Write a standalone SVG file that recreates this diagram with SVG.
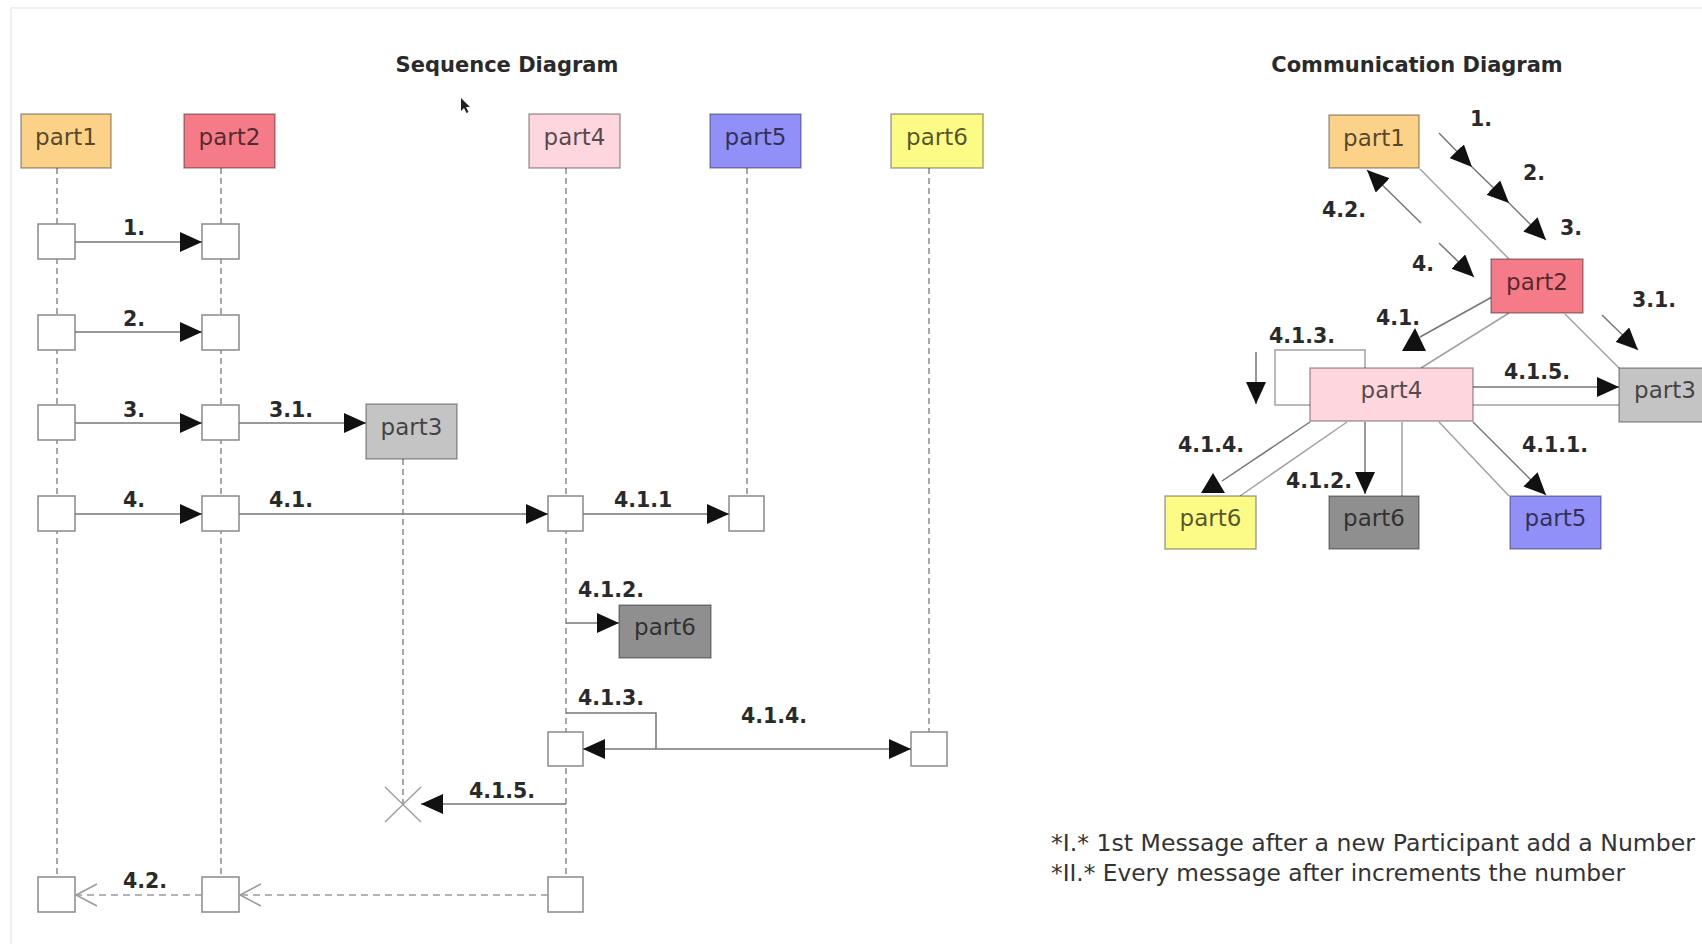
<svg xmlns="http://www.w3.org/2000/svg" width="1702" height="944" viewBox="0 0 1702 944">
  <style>
    .bg { fill: #ffffff; }
    .frame { stroke: #ececec; stroke-width: 1.5; fill: none; }
    .title { font-family: "DejaVu Sans", "Liberation Sans", sans-serif; font-weight: bold; font-size: 21px; fill: #2a2a2a; text-anchor: middle; }
    .lbl { font-family: "DejaVu Sans", "Liberation Sans", sans-serif; font-weight: bold; font-size: 20.5px; fill: #2a2a2a; }
    .name { font-family: "DejaVu Sans", "Liberation Sans", sans-serif; font-size: 23px; fill: #000; fill-opacity: 0.68; text-anchor: middle; }
    .note { font-family: "DejaVu Sans", "Liberation Sans", sans-serif; font-size: 23px; fill: #333; }
    .box { stroke: #000; stroke-opacity: 0.35; stroke-width: 1.5; }
    .life { stroke: #8a8a8a; stroke-width: 1.5; stroke-dasharray: 6 4; fill: none; }
    .act { fill: #ffffff; stroke: #8a8a8a; stroke-width: 1.5; }
    .msg { stroke: #767676; stroke-width: 1.5; fill: none; }
    .ret { stroke: #9a9a9a; stroke-width: 1.5; stroke-dasharray: 7 5; fill: none; }
    .open { stroke: #9a9a9a; stroke-width: 1.5; fill: none; }
    .conn { stroke: #a2a2a2; stroke-width: 1.5; fill: none; }
    .head { fill: #111; }
  </style>
  <defs>
    <marker id="tri" markerUnits="userSpaceOnUse" markerWidth="22" markerHeight="20" refX="22" refY="10" orient="auto">
      <path d="M0,0 L22,10 L0,20 z" fill="#111"/>
    </marker>
  </defs>

  <rect class="bg" x="0" y="0" width="1702" height="944"/>
  <path class="frame" d="M11,944 V8 H1702"/>

  <!-- ===================== Sequence diagram ===================== -->
  <text class="title" x="507" y="72">Sequence Diagram</text>
  <!-- pointer -->
  <path d="M461,98 L461,111 L464,108 L466.5,113 L468.5,112 L466,107 L470,107 Z" fill="#222"/>

  <g id="seq-lifelines">
    <line class="life" x1="57" y1="168" x2="57" y2="877"/>
    <line class="life" x1="221" y1="168" x2="221" y2="877"/>
    <line class="life" x1="566" y1="168" x2="566" y2="877"/>
    <line class="life" x1="747" y1="168" x2="747" y2="496"/>
    <line class="life" x1="929" y1="168" x2="929" y2="732"/>
    <line class="life" x1="403" y1="459" x2="403" y2="805"/>
  </g>

  <g id="seq-part1"><rect class="box" x="21" y="114" width="90" height="54" fill="#FBD287"/><text class="name" x="66" y="145">part1</text></g>
  <g id="seq-part2"><rect class="box" x="184" y="114" width="91" height="54" fill="#F47B87"/><text class="name" x="229.5" y="145">part2</text></g>
  <g id="seq-part4"><rect class="box" x="529" y="114" width="91" height="54" fill="#FDD7DD"/><text class="name" x="574.5" y="145">part4</text></g>
  <g id="seq-part5"><rect class="box" x="710" y="114" width="91" height="54" fill="#9090F8"/><text class="name" x="755.5" y="145">part5</text></g>
  <g id="seq-part6"><rect class="box" x="891" y="114" width="92" height="54" fill="#FBFB85"/><text class="name" x="937" y="145">part6</text></g>
  <g id="seq-part3"><rect class="box" x="366" y="404" width="91" height="55" fill="#C4C4C4"/><text class="name" x="411.5" y="435">part3</text></g>
  <g id="seq-part6b"><rect class="box" x="619" y="605" width="92" height="53" fill="#8F8F8F"/><text class="name" x="665" y="635">part6</text></g>

  <g id="seq-activations">
    <rect class="act" x="38" y="224" width="37" height="35"/>
    <rect class="act" x="202" y="224" width="37" height="35"/>
    <rect class="act" x="38" y="315" width="37" height="35"/>
    <rect class="act" x="202" y="315" width="37" height="35"/>
    <rect class="act" x="38" y="405" width="37" height="35"/>
    <rect class="act" x="202" y="405" width="37" height="35"/>
    <rect class="act" x="38" y="496" width="37" height="35"/>
    <rect class="act" x="202" y="496" width="37" height="35"/>
    <rect class="act" x="548" y="496" width="35" height="35"/>
    <rect class="act" x="729" y="496" width="35" height="35"/>
    <rect class="act" x="548" y="732" width="35" height="34"/>
    <rect class="act" x="911" y="732" width="36" height="34"/>
    <rect class="act" x="38" y="877" width="37" height="35"/>
    <rect class="act" x="202" y="877" width="37" height="35"/>
    <rect class="act" x="548" y="877" width="35" height="35"/>
  </g>

  <g id="seq-messages">
    <line class="msg" x1="75" y1="242" x2="202" y2="242" marker-end="url(#tri)"/>
    <line class="msg" x1="75" y1="332" x2="202" y2="332" marker-end="url(#tri)"/>
    <line class="msg" x1="75" y1="423" x2="202" y2="423" marker-end="url(#tri)"/>
    <line class="msg" x1="239" y1="423" x2="366" y2="423" marker-end="url(#tri)"/>
    <line class="msg" x1="75" y1="514" x2="202" y2="514" marker-end="url(#tri)"/>
    <line class="msg" x1="239" y1="514" x2="548" y2="514" marker-end="url(#tri)"/>
    <line class="msg" x1="583" y1="514" x2="729" y2="514" marker-end="url(#tri)"/>
    <line class="msg" x1="566" y1="623" x2="619" y2="623" marker-end="url(#tri)"/>
    <!-- self call 4.1.3 -->
    <path class="msg" d="M566,713 H656 V749"/>
    <line class="msg" x1="656" y1="749" x2="583" y2="749" marker-end="url(#tri)"/>
    <line class="msg" x1="656" y1="749" x2="911" y2="749" marker-end="url(#tri)"/>
    <!-- destroy part3 -->
    <line class="msg" x1="566" y1="804" x2="421" y2="804" marker-end="url(#tri)"/>
    <path d="M385,787 L421,822 M421,787 L385,822" stroke="#a0a0a0" stroke-width="1.5" fill="none"/>
    <!-- return 4.2 -->
    <line class="ret" x1="548" y1="895" x2="240" y2="895"/>
    <path class="open" d="M261,884 L240,895 L261,906"/>
    <line class="ret" x1="202" y1="895" x2="76" y2="895"/>
    <path class="open" d="M97,884 L76,895 L97,906"/>
  </g>

  <g id="seq-labels">
    <text class="lbl" x="123" y="235">1.</text>
    <text class="lbl" x="123" y="326">2.</text>
    <text class="lbl" x="123" y="417">3.</text>
    <text class="lbl" x="269" y="417">3.1.</text>
    <text class="lbl" x="123" y="507">4.</text>
    <text class="lbl" x="269" y="507">4.1.</text>
    <text class="lbl" x="614" y="507">4.1.1</text>
    <text class="lbl" x="578" y="597">4.1.2.</text>
    <text class="lbl" x="578" y="705">4.1.3.</text>
    <text class="lbl" x="741" y="723">4.1.4.</text>
    <text class="lbl" x="469" y="798">4.1.5.</text>
    <text class="lbl" x="123" y="888">4.2.</text>
  </g>

  <!-- ===================== Communication diagram ===================== -->
  <text class="title" x="1417" y="72">Communication Diagram</text>

  <g id="comm-links">
    <line class="conn" x1="1420" y1="169" x2="1509" y2="259"/>
    <line class="conn" x1="1509" y1="313" x2="1421" y2="368"/>
    <line class="conn" x1="1565" y1="314" x2="1620" y2="369"/>
    <line class="conn" x1="1473" y1="405" x2="1619" y2="405"/>
    <line class="conn" x1="1347" y1="422" x2="1240" y2="496"/>
    <line class="conn" x1="1402" y1="422" x2="1402" y2="496"/>
    <line class="conn" x1="1439" y1="422" x2="1509" y2="496"/>
    <path class="conn" d="M1365,368 V350 H1275 V405 H1310"/>
  </g>

  <g id="comm-messages">
    <line class="msg" x1="1439" y1="133" x2="1472" y2="167" marker-end="url(#tri)"/>
    <line class="msg" x1="1472" y1="167" x2="1509" y2="203" marker-end="url(#tri)"/>
    <line class="msg" x1="1509" y1="203" x2="1546" y2="240" marker-end="url(#tri)"/>
    <line class="msg" x1="1421" y1="223" x2="1367" y2="170" marker-end="url(#tri)"/>
    <line class="msg" x1="1439" y1="243" x2="1474" y2="277" marker-end="url(#tri)"/>
    <line class="msg" x1="1602" y1="315" x2="1638" y2="350" marker-end="url(#tri)"/>
    <line class="msg" x1="1473" y1="387" x2="1619" y2="387" marker-end="url(#tri)"/>
    <line class="msg" x1="1473" y1="422" x2="1546" y2="495" marker-end="url(#tri)"/>
    <line class="msg" x1="1365" y1="422" x2="1365" y2="494" marker-end="url(#tri)"/>
    <line class="msg" x1="1256" y1="352" x2="1256" y2="404" marker-end="url(#tri)"/>
    <line class="msg" x1="1492" y1="297" x2="1420" y2="337"/>
    <path class="head" d="M1415,328 L1426,351 L1402,351 Z"/>
    <line class="msg" x1="1310" y1="422" x2="1222" y2="481"/>
    <path class="head" d="M1213,473 L1225,493 L1201,493 Z"/>
  </g>

  <g id="comm-part1"><rect class="box" x="1329" y="115" width="90" height="53" fill="#FBD287"/><text class="name" x="1374" y="146">part1</text></g>
  <g id="comm-part2"><rect class="box" x="1491" y="259" width="92" height="54" fill="#F47B87"/><text class="name" x="1537" y="290">part2</text></g>
  <g id="comm-part4"><rect class="box" x="1310" y="368" width="163" height="53" fill="#FDD7DD"/><text class="name" x="1391.5" y="398">part4</text></g>
  <g id="comm-part3"><rect class="box" x="1619" y="368" width="92" height="54" fill="#C4C4C4"/><text class="name" x="1665" y="398">part3</text></g>
  <g id="comm-part6"><rect class="box" x="1165" y="496" width="91" height="53" fill="#FBFB85"/><text class="name" x="1210.5" y="526">part6</text></g>
  <g id="comm-part6b"><rect class="box" x="1329" y="496" width="90" height="53" fill="#8F8F8F"/><text class="name" x="1374" y="526">part6</text></g>
  <g id="comm-part5"><rect class="box" x="1510" y="496" width="91" height="53" fill="#9090F8"/><text class="name" x="1555.5" y="526">part5</text></g>

  <g id="comm-labels">
    <text class="lbl" x="1470" y="126">1.</text>
    <text class="lbl" x="1523" y="180">2.</text>
    <text class="lbl" x="1560" y="235">3.</text>
    <text class="lbl" x="1322" y="217">4.2.</text>
    <text class="lbl" x="1412" y="271">4.</text>
    <text class="lbl" x="1632" y="307">3.1.</text>
    <text class="lbl" x="1376" y="325">4.1.</text>
    <text class="lbl" x="1269" y="343">4.1.3.</text>
    <text class="lbl" x="1504" y="379">4.1.5.</text>
    <text class="lbl" x="1178" y="452">4.1.4.</text>
    <text class="lbl" x="1522" y="452">4.1.1.</text>
    <text class="lbl" x="1286" y="488">4.1.2.</text>
  </g>

  <g id="notes">
    <text class="note" x="1051" y="851" textLength="644" lengthAdjust="spacingAndGlyphs">*I.* 1st Message after a new Participant add a Number</text>
    <text class="note" x="1051" y="881" textLength="574" lengthAdjust="spacingAndGlyphs">*II.* Every message after increments the number</text>
  </g>
</svg>
